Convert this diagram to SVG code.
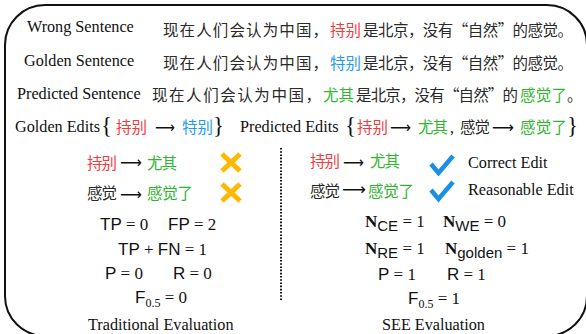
<svg xmlns="http://www.w3.org/2000/svg" width="586" height="334" viewBox="0 0 586 334">
<style>
.lbl{font-family:"Liberation Serif","Times New Roman",serif;font-size:16.2px;fill:#111}
.cjk{font-family:"Noto Sans CJK SC","Noto Sans CJK JP",sans-serif;font-size:15.5px;fill:#2a2a2a}
.red{fill:#f23c3c}
.blue{fill:#1e9bf5}
.green{fill:#2fb52f}
.arr{font-family:"DejaVu Sans",sans-serif;font-size:16px;fill:#111}
.br{font-family:"Liberation Serif","Times New Roman",serif;font-size:23px;fill:#111}
.m{font-family:"Liberation Serif","Times New Roman",serif;font-size:17px;fill:#111}
.s{font-family:"Liberation Sans",Arial,sans-serif}
.b{font-weight:bold}
.sub{font-size:12px}
.ssub{font-family:"Liberation Sans",Arial,sans-serif;font-size:15px}
.x{stroke:#ffb700;stroke-width:5;stroke-linecap:butt;fill:none}
.ck{stroke:#1a8fe8;stroke-width:4.5;stroke-linecap:butt;stroke-linejoin:miter;fill:none}
</style>
<rect x="5" y="5" width="582" height="331" rx="40" ry="40" fill="#fff" stroke="#111" stroke-width="2"/>

<g id="wrong-sentence">
<text class="lbl" x="27" y="32">Wrong Sentence</text>
<text class="cjk" x="163" y="36" textLength="165" lengthAdjust="spacing">现在人们会认为中国，</text>
<text class="cjk red" x="330" y="36" textLength="31" lengthAdjust="spacing">持别</text>
<text class="cjk" x="363" y="36" textLength="210" lengthAdjust="spacing">是北京，没有“自然”的感觉。</text>
</g>

<g id="golden-sentence">
<text class="lbl" x="24" y="66">Golden Sentence</text>
<text class="cjk" x="163" y="69" textLength="165" lengthAdjust="spacing">现在人们会认为中国，</text>
<text class="cjk blue" x="330" y="69" textLength="31" lengthAdjust="spacing">特别</text>
<text class="cjk" x="363" y="69" textLength="210" lengthAdjust="spacing">是北京，没有“自然”的感觉。</text>
</g>

<g id="predicted-sentence">
<text class="lbl" x="17" y="99">Predicted Sentence</text>
<text class="cjk" x="152" y="101" textLength="169" lengthAdjust="spacing">现在人们会认为中国，</text>
<text class="cjk green" x="323" y="101" textLength="31" lengthAdjust="spacing">尤其</text>
<text class="cjk" x="356" y="101" textLength="162" lengthAdjust="spacing">是北京，没有“自然”的</text>
<text class="cjk green" x="520" y="101" textLength="47" lengthAdjust="spacing">感觉了</text>
<text class="cjk" x="567" y="101">。</text>
</g>

<g id="golden-edits">
<text class="lbl" x="15" y="132">Golden Edits</text>
<text class="br" x="101" y="133">{</text>
<text class="cjk red" x="116" y="133" textLength="31" lengthAdjust="spacing">持别</text>
<text class="arr" x="155" y="133" textLength="20" lengthAdjust="spacingAndGlyphs">⟶</text>
<text class="cjk blue" x="182" y="133" textLength="31" lengthAdjust="spacing">特别</text>
<text class="br" x="213" y="133">}</text>
</g>

<g id="predicted-edits">
<text class="lbl" x="240" y="132">Predicted Edits</text>
<text class="br" x="345" y="133">{</text>
<text class="cjk red" x="357" y="133" textLength="31" lengthAdjust="spacing">持别</text>
<text class="arr" x="390" y="133" textLength="21" lengthAdjust="spacingAndGlyphs">⟶</text>
<text class="cjk green" x="418" y="133" textLength="30" lengthAdjust="spacing">尤其</text>
<text class="lbl" x="450" y="133">,</text>
<text class="cjk" x="460" y="133" textLength="30" lengthAdjust="spacing">感觉</text>
<text class="arr" x="492" y="133" textLength="22" lengthAdjust="spacingAndGlyphs">⟶</text>
<text class="cjk green" x="520" y="133" textLength="47" lengthAdjust="spacing">感觉了</text>
<text class="br" x="567" y="133">}</text>
</g>

<g id="divider">
<line x1="281" y1="148" x2="281" y2="300" stroke="#111" stroke-width="2" stroke-dasharray="1.6 1.6"/>
</g>
<g id="connectors"></g>

<g id="trad-edit1">
<text class="cjk red" x="87" y="169" textLength="30" lengthAdjust="spacing">持别</text>
<text class="arr" x="120" y="168" textLength="22" lengthAdjust="spacingAndGlyphs">⟶</text>
<text class="cjk green" x="147" y="169" textLength="30" lengthAdjust="spacing">尤其</text>
<path class="x" d="M222,154 L240,171 M240,154 L222,171"/>
</g>

<g id="trad-edit2">
<text class="cjk" x="87" y="199" textLength="30" lengthAdjust="spacing">感觉</text>
<text class="arr" x="120" y="200" textLength="22" lengthAdjust="spacingAndGlyphs">⟶</text>
<text class="cjk green" x="147" y="199" textLength="46" lengthAdjust="spacing">感觉了</text>
<path class="x" d="M222,184 L240,201 M240,184 L222,201"/>
</g>

<g id="see-edit1">
<text class="cjk red" x="310" y="167" textLength="30" lengthAdjust="spacing">持别</text>
<text class="arr" x="343" y="168" textLength="21" lengthAdjust="spacingAndGlyphs">⟶</text>
<text class="cjk green" x="370" y="167" textLength="30" lengthAdjust="spacing">尤其</text>
<path class="ck" d="M431,164 L438.5,173 L453,156"/>
<text class="lbl" x="468" y="168">Correct Edit</text>
</g>

<g id="see-edit2">
<text class="cjk" x="310" y="197" textLength="30" lengthAdjust="spacing">感觉</text>
<text class="arr" x="342" y="195" textLength="24" lengthAdjust="spacingAndGlyphs">⟶</text>
<text class="cjk green" x="368" y="197" textLength="46" lengthAdjust="spacing">感觉了</text>
<path class="ck" d="M431,190 L438.5,199 L453,182"/>
<text class="lbl" x="468" y="195">Reasonable Edit</text>
</g>

<g id="traditional-evaluation">
<text class="m" x="100" y="230"><tspan class="s">TP</tspan> = 0</text>
<text class="m" x="168" y="230"><tspan class="s">FP</tspan> = 2</text>
<text class="m" x="118" y="255"><tspan class="s">TP</tspan> + <tspan class="s">FN</tspan> = 1</text>
<text class="m" x="105" y="279"><tspan class="s">P</tspan> = 0</text>
<text class="m" x="173" y="279"><tspan class="s">R</tspan> = 0</text>
<text class="m" x="135" y="303"><tspan class="s">F</tspan><tspan class="sub" dy="4">0.5</tspan><tspan dy="-4"> = 0</tspan></text>
<text class="lbl" x="88" y="330">Traditional Evaluation</text>
</g>

<g id="see-evaluation">
<text class="m" x="365" y="227"><tspan class="b">N</tspan><tspan class="ssub" dy="4">CE</tspan><tspan dy="-4"> = 1</tspan></text>
<text class="m" x="443" y="227"><tspan class="b">N</tspan><tspan class="ssub" dy="4">WE</tspan><tspan dy="-4"> = 0</tspan></text>
<text class="m" x="365" y="254"><tspan class="b">N</tspan><tspan class="ssub" dy="4">RE</tspan><tspan dy="-4"> = 1</tspan></text>
<text class="m" x="445" y="254"><tspan class="b">N</tspan><tspan class="ssub" dy="4">golden</tspan><tspan dy="-4"> = 1</tspan></text>
<text class="m" x="378" y="280"><tspan class="s">P</tspan> = 1</text>
<text class="m" x="447" y="280"><tspan class="s">R</tspan> = 1</text>
<text class="m" x="408" y="304"><tspan class="s">F</tspan><tspan class="sub" dy="4">0.5</tspan><tspan dy="-4"> = 1</tspan></text>
<text class="lbl" x="382" y="330">SEE Evaluation</text>
</g>
</svg>
